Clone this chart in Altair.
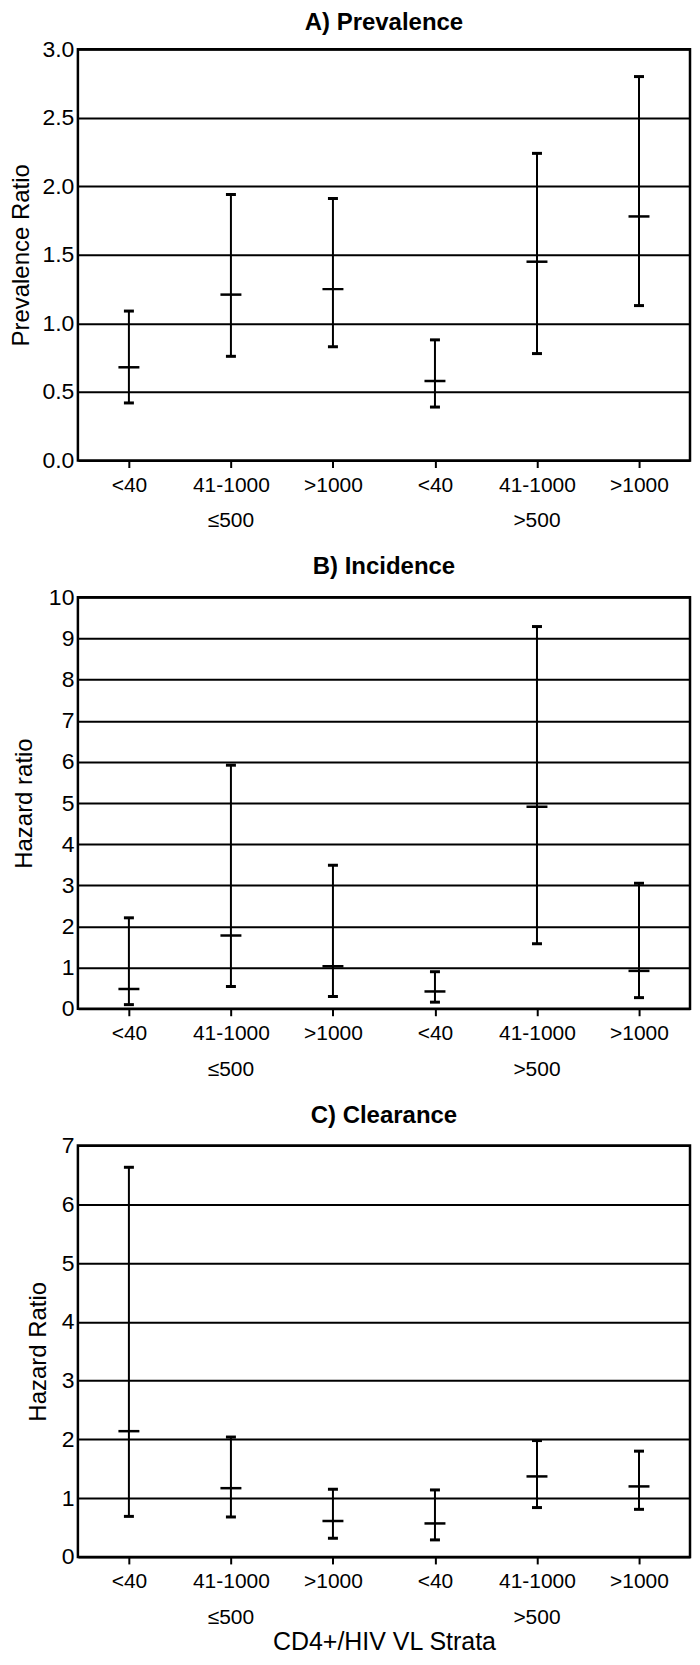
import altair as alt
import pandas as pd

# ---------------- data ----------------
cd4_groups = ["≤500", "≤500", "≤500", ">500", ">500", ">500"]
vl_strata = ["<40", "41-1000", ">1000", "<40", "41-1000", ">1000"]

prev_est = [0.68, 1.21, 1.25, 0.58, 1.45, 1.78]
prev_lo = [0.42, 0.76, 0.83, 0.39, 0.78, 1.13]
prev_hi = [1.09, 1.94, 1.91, 0.88, 2.24, 2.80]

inc_est = [0.48, 1.78, 1.03, 0.42, 4.91, 0.92]
inc_lo = [0.10, 0.54, 0.30, 0.16, 1.58, 0.27]
inc_hi = [2.21, 5.92, 3.49, 0.90, 9.29, 3.05]

clr_est = [2.14, 1.17, 0.61, 0.57, 1.37, 1.20]
clr_lo = [0.69, 0.68, 0.32, 0.29, 0.84, 0.81]
clr_hi = [6.63, 2.04, 1.15, 1.14, 1.98, 1.80]

prev_ticks = [0.0, 0.5, 1.0, 1.5, 2.0, 2.5, 3.0]
inc_ticks = [0, 1, 2, 3, 4, 5, 6, 7, 8, 9, 10]
clr_ticks = [0, 1, 2, 3, 4, 5, 6, 7]

group_names = ["≤500", ">500"]

keys = [g + ":" + v for g, v in zip(cd4_groups, vl_strata)]
group_keys = [keys[1], keys[4]]

W, H = 613, 412
FONT = "Liberation Sans"


def panel(title, ytitle, ticks, yfmt, est, lo, hi, title_x, title_off, xtitle=None):
    df = pd.DataFrame({"key": keys, "est": est, "lo": lo, "hi": hi})
    xaxis_kw = dict(
        labelExpr="split(datum.label, ':')[1]",
        labelAngle=0,
        labelFontSize=21,
        labelFont=FONT,
        labelColor="black",
        labelPadding=7,
        domain=False,
        ticks=True,
        tickSize=7,
        tickWidth=2,
        tickColor="black",
        grid=False,
    )
    if xtitle:
        xaxis_kw.update(
            title=xtitle,
            titleFontSize=25,
            titleFont=FONT,
            titleFontWeight="normal",
            titleColor="black",
            titleY=93,
            titleBaseline="alphabetic",
        )
    else:
        xaxis_kw.update(title=None)
    xenc = alt.X(
        "key:N",
        sort=keys,
        scale=alt.Scale(type="point", domain=keys, padding=0.5),
        axis=alt.Axis(**xaxis_kw),
    )
    yscale = alt.Scale(domain=[ticks[0], ticks[-1]], nice=False, zero=True)
    yaxis = alt.Axis(
        title=ytitle,
        values=ticks,
        format=yfmt,
        labelFontSize=23,
        labelFont=FONT,
        labelColor="black",
        labelPadding=4,
        labelFlush=False,
        labelOverlap=False,
        domain=False,
        ticks=False,
        grid=True,
        gridColor="black",
        gridWidth=2,
        gridOpacity=1,
        titleFontSize=24,
        titleFont=FONT,
        titleFontWeight="normal",
        titleColor="black",
        titleAngle=270,
        titleX=title_x,
        titleY=H / 2,
        titleBaseline="middle",
        titleAlign="center",
    )
    base = alt.Chart(df)
    rule = base.mark_rule(color="black", strokeWidth=2).encode(
        x=xenc, y=alt.Y("lo:Q", scale=yscale, axis=yaxis), y2="hi:Q"
    )
    cap_lo = base.mark_tick(color="black", size=10, thickness=3, opacity=1).encode(
        x=xenc, y=alt.Y("lo:Q", scale=yscale)
    )
    cap_hi = base.mark_tick(color="black", size=10, thickness=3, opacity=1).encode(
        x=xenc, y=alt.Y("hi:Q", scale=yscale)
    )
    point = base.mark_tick(color="black", size=21, thickness=2.5, opacity=1).encode(
        x=xenc, y=alt.Y("est:Q", scale=yscale)
    )
    gdf = pd.DataFrame({"key": group_keys, "g": group_names})
    glabel = alt.Chart(gdf).mark_text(
        fontSize=21, font=FONT, color="black", baseline="middle", align="center"
    ).encode(x=xenc, y=alt.value(H + 61), text="g:N")
    return alt.layer(rule, cap_lo, cap_hi, point, glabel).properties(
        width=W,
        height=H,
        title=alt.TitleParams(
            title,
            fontSize=24,
            font=FONT,
            fontWeight="bold",
            color="black",
            anchor="middle",
            offset=title_off,
        ),
    )


pa = panel("A) Prevalence", "Prevalence Ratio", prev_ticks, ".1f",
           prev_est, prev_lo, prev_hi, -56, 3)
pb = panel("B) Incidence", "Hazard ratio", inc_ticks, "d",
           inc_est, inc_lo, inc_hi, -53, 7)
pc = panel("C) Clearance", "Hazard Ratio", clr_ticks, "d",
           clr_est, clr_lo, clr_hi, -39, 7, xtitle="CD4+/HIV VL Strata")

chart = (
    alt.vconcat(pa, pb, pc, spacing=137, bounds="flush")
    .properties(padding={"top": 0, "bottom": -4, "left": 0, "right": 0},
                background="white")
    .configure_view(stroke="black", strokeWidth=2.5)
)

chart.save("out.html", embed_options={"renderer": "svg", "actions": False})
